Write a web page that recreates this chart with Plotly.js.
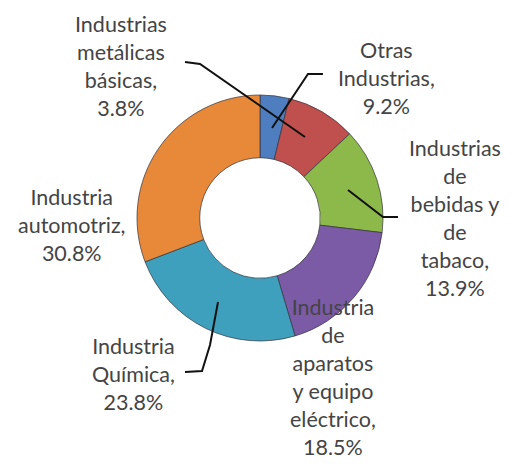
<!DOCTYPE html>
<html>
<head>
<meta charset="utf-8">
<script src="https://cdn.plot.ly/plotly-3.0.1.min.js"></script>
<style>html,body{margin:0;padding:0;background:#fff;}#chart{width:511px;height:464px;}</style>
</head>
<body>
<div id="chart"></div>
<script>
// Data
var categories = [
  "Industrias metálicas básicas",
  "Otras Industrias",
  "Industrias de bebidas y de tabaco",
  "Industria de aparatos y equipo eléctrico",
  "Industria Química",
  "Industria automotriz"
];
var shares = [3.8, 9.2, 13.9, 18.5, 23.8, 30.8];
var labelLines = [
  ["Industrias", "metálicas", "básicas,"],
  ["Otras", "Industrias,"],
  ["Industrias", "de", "bebidas y", "de", "tabaco,"],
  ["Industria", "de", "aparatos", "y equipo", "eléctrico,"],
  ["Industria", "Química,"],
  ["Industria", "automotriz,"]
];
var colors = ["#4F7EC0", "#C0504D", "#8DB84A", "#7B5BA6", "#3FA0BE", "#E8893A"];

var W = 511, H = 464;
function px(x) { return x / W; }
function py(y) { return 1 - y / H; }

// label block centres (pixels) and leader lines (pixels)
var labelPos = [[121, 66], [386, 78], [455, 218], [333, 377], [133, 374], [72, 225]];
var leaders = [
  [[185, 62], [200, 64], [305, 137]],
  [[323, 74], [308, 74], [272, 128]],
  [[348, 190], [383, 217], [398, 217]],
  null,
  [[218, 302], [210, 345], [202, 371], [185, 372]],
  null
];

var annotations = categories.map(function (c, i) {
  return {
    xref: "paper", yref: "paper",
    x: px(labelPos[i][0]), y: py(labelPos[i][1]),
    xanchor: "center", yanchor: "middle",
    showarrow: false,
    align: "center",
    text: labelLines[i].join("<br>") + "<br>" + shares[i].toFixed(1) + "%",
    font: { family: "Lato, 'Open Sans', sans-serif", size: 21.5, color: "#444444" }
  };
});

var shapes = [];
leaders.forEach(function (pts) {
  if (!pts) return;
  var d = pts.map(function (p, k) { return (k ? "L" : "M") + px(p[0]) + "," + py(p[1]); }).join(" ");
  shapes.push({ type: "path", xref: "paper", yref: "paper", path: d,
    line: { color: "#111111", width: 2 } });
});

var trace = {
  type: "pie",
  labels: categories,
  values: shares,
  sort: false,
  direction: "clockwise",
  rotation: 0,
  hole: 0.49,
  textinfo: "none",
  hoverinfo: "label+percent",
  marker: { colors: colors, line: { color: "rgba(50,50,60,0.7)", width: 1 } },
  domain: { x: [px(137), px(383)], y: [py(342), py(94)] },
  showlegend: false
};

var layout = {
  width: W, height: H,
  margin: { l: 0, r: 0, t: 0, b: 0 },
  paper_bgcolor: "#ffffff",
  showlegend: false,
  annotations: annotations,
  shapes: shapes
};

Plotly.newPlot("chart", [trace], layout, { displayModeBar: false, staticPlot: true });
</script>
</body>
</html>
